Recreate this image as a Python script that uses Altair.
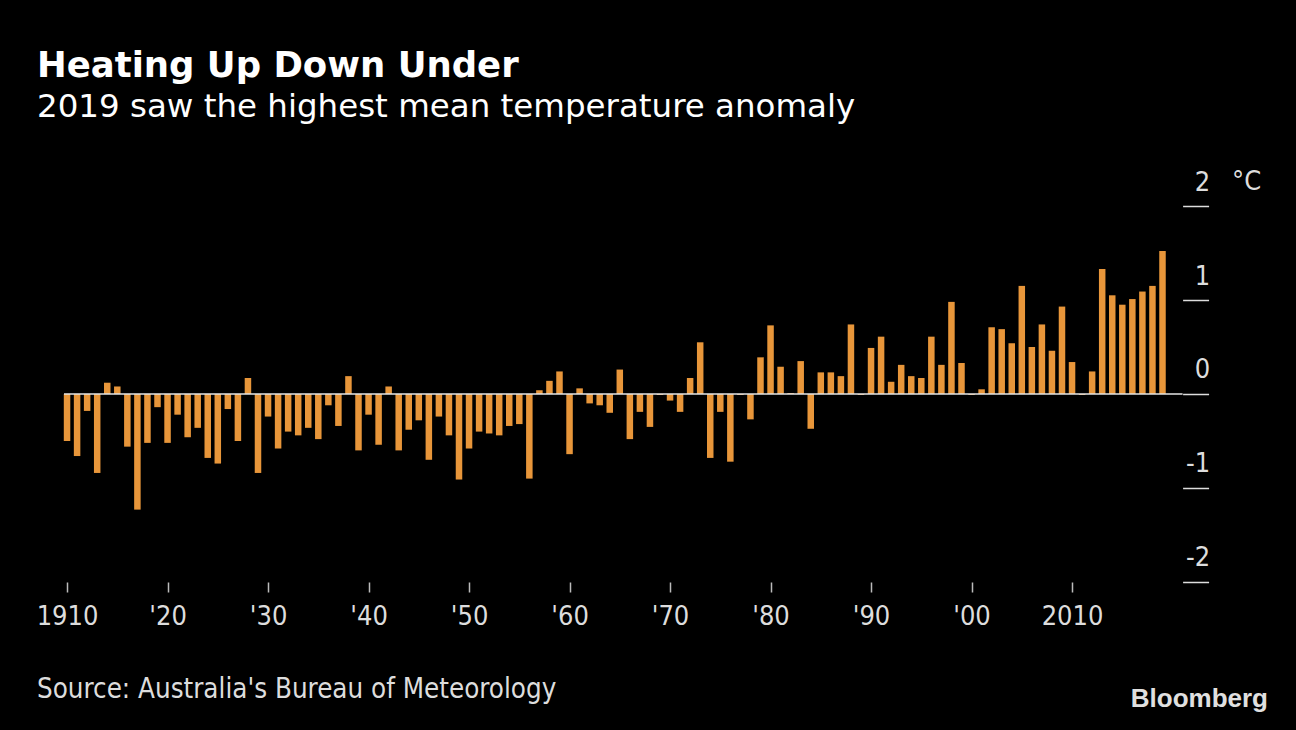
import altair as alt
import pandas as pd

years = list(range(1910, 2020))
anomaly = [
    -0.50, -0.66, -0.18, -0.84, 0.12, 0.08, -0.56, -1.23, -0.52, -0.14,   # 1910s
    -0.52, -0.22, -0.46, -0.36, -0.68, -0.74, -0.16, -0.50, 0.17, -0.84,  # 1920s
    -0.24, -0.58, -0.40, -0.44, -0.36, -0.48, -0.12, -0.34, 0.19, -0.60,  # 1930s
    -0.22, -0.54, 0.08, -0.60, -0.38, -0.28, -0.70, -0.24, -0.44, -0.91,  # 1940s
    -0.58, -0.40, -0.42, -0.44, -0.34, -0.32, -0.90, 0.04, 0.14, 0.24,    # 1950s
    -0.64, 0.06, -0.10, -0.12, -0.20, 0.26, -0.48, -0.19, -0.35, -0.01,   # 1960s
    -0.07, -0.19, 0.17, 0.55, -0.68, -0.19, -0.72, -0.01, -0.27, 0.39,    # 1970s
    0.73, 0.29, 0.01, 0.35, -0.37, 0.23, 0.23, 0.19, 0.74, -0.01,         # 1980s
    0.49, 0.61, 0.13, 0.31, 0.19, 0.17, 0.61, 0.31, 0.98, 0.33,           # 1990s
    -0.01, 0.05, 0.71, 0.69, 0.54, 1.15, 0.50, 0.74, 0.46, 0.93,          # 2000s
    0.34, -0.01, 0.24, 1.33, 1.05, 0.95, 1.01, 1.09, 1.15, 1.52,          # 2010s
]
x_ticks = [1910, 1920, 1930, 1940, 1950, 1960, 1970, 1980, 1990, 2000, 2010]
y_ticks = [-2, -1, 0, 1, 2]

title = "Heating Up Down Under"
subtitle = "2019 saw the highest mean temperature anomaly"
source = "Source: Australia's Bureau of Meteorology"
unit = "°C"
logo = "Bloomberg"

df = pd.DataFrame({"year": years, "anomaly": anomaly})

W = 1125.6
H = 376
NARROW = "Liberation Sans Narrow, DejaVu Sans Condensed, sans-serif"

x_scale = alt.Scale(domain=[1909, 2021], nice=False, zero=False, padding=0)
y_scale = alt.Scale(domain=[-2, 2], nice=False, padding=0)

bars = alt.Chart(df).mark_bar(width=6.5, color="#E8963A").encode(
    x=alt.X("year:Q", scale=x_scale, title=None,
            axis=alt.Axis(values=x_ticks, domain=False, grid=False, tickSize=10,
                          tickColor="#bbbbbb", tickWidth=1.5,
                          labelExpr="(datum.value == 1910 || datum.value == 2010) ? toString(datum.value) : \"'\" + substring(toString(datum.value), 2, 4)",
                          labelFont=NARROW, labelFontSize=27, labelColor="#dddddd",
                          labelPadding=12, labelFlush=False, labelOverlap=False)),
    y=alt.Y("anomaly:Q", scale=y_scale, title=None,
            axis=alt.Axis(orient="right", values=y_ticks, domain=False, grid=False,
                          tickSize=26, tickColor="#dddddd", tickWidth=1.5,
                          labelAlign="right", labelBaseline="alphabetic", labelOffset=-16,
                          labelPadding=1, labelFont=NARROW, labelFontSize=27,
                          labelColor="#dddddd", labelExpr="toString(datum.value)")),
)

zero = alt.Chart(pd.DataFrame({"z": [0]})).mark_rule(color="#e6e6e6", strokeWidth=1.5).encode(
    y=alt.Y("z:Q", scale=y_scale), x=alt.value(7), x2=alt.value(W)
)

def txt(s, x, y, **kw):
    return alt.Chart(pd.DataFrame({"t": [s]})).mark_text(baseline="alphabetic", **kw).encode(
        text="t:N", x=alt.value(x), y=alt.value(y)
    )

t1 = txt(title, -20, -129, align="left", font="DejaVu Sans", fontWeight="bold", fontSize=35.5, color="#ffffff")
t2 = txt(subtitle, -20, -89, align="left", font="DejaVu Sans", fontSize=32.5, color="#ffffff")
t3 = txt(source, -20, 492, align="left", font=NARROW, fontSize=27.5, color="#dddddd")
t4 = txt(logo, 1211, 501, align="right", font="Liberation Sans", fontWeight="bold", fontSize=26, color="#e0e0e0")
t5 = txt(unit, 1175, -16, align="left", font=NARROW, fontSize=27, color="#dddddd")

chart = alt.layer(bars, zero, t1, t2, t3, t4, t5).properties(
    width=W, height=H,
    background="#000000",
    padding={"left": 57, "top": 206, "right": 113, "bottom": 148},
    autosize=alt.AutoSizeParams(type="none"),
).configure_view(stroke=None)

chart.save("out.html", embed_options={"renderer": "svg", "actions": False})
